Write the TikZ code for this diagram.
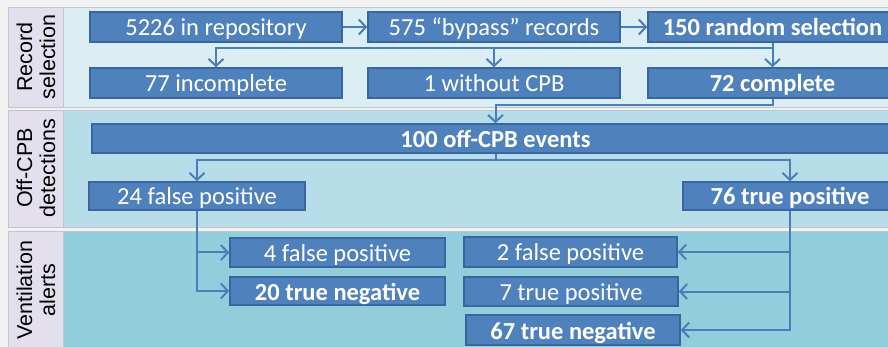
\documentclass[tikz,border=0pt]{standalone}
\usepackage{fontspec}
\setmainfont{Carlito}
\newfontfamily\labelfont{Liberation Sans}
\usetikzlibrary{arrows.meta}

\definecolor{pagebg}{HTML}{F2F2F2}
\definecolor{labelbg}{HTML}{E4DFEC}
\definecolor{bandA}{HTML}{DBEEF4}
\definecolor{bandB}{HTML}{B7DDE8}
\definecolor{bandC}{HTML}{92CDDC}
\definecolor{bandline}{HTML}{C4C4CC}
\definecolor{boxfill}{HTML}{4F81BD}
\definecolor{boxline}{HTML}{3A66A0}
\definecolor{flow}{HTML}{4A7EBB}

\tikzset{
  box/.style={draw=boxline, line width=1.5pt, fill=boxfill, text=white,
    inner sep=0pt, text height=22pt, text depth=4pt,
    font=\fontsize{24.5}{27}\selectfont},
  boldbox/.style={box, font=\fontsize{24.5}{27}\selectfont\bfseries},
  arr/.style={draw=flow, line width=2pt,
    -{Straight Barb[length=7pt,width=15pt,line width=2pt]}},
  lane/.style={draw=bandline, line width=0.8pt},
  lanetitle/.style={rotate=90, align=center, text=black,
    font=\labelfont\fontsize{21.5}{23}\selectfont}
}

\begin{document}
\begin{tikzpicture}[x=1pt,y=-1pt]
  \useasboundingbox (0,0) rectangle (888,347);
  \fill[pagebg] (0,0) rectangle (888,347);

  % swim lanes
  \filldraw[lane, fill=bandA]   (63,7)   rectangle (896,107);
  \filldraw[lane, fill=labelbg] (8,7)    rectangle (63,107);
  \filldraw[lane, fill=bandB]   (63,110) rectangle (896,227);
  \filldraw[lane, fill=labelbg] (8,110)  rectangle (63,227);
  \filldraw[lane, fill=bandC]   (63,231) rectangle (896,352);
  \filldraw[lane, fill=labelbg] (8,231)  rectangle (63,352);

  \node[lanetitle] (l1) at (36,57)  {Record\\selection};
  \node[lanetitle] (l2) at (36,168) {Off-CPB\\detections};
  \node[lanetitle] (l3) at (36,290) {Ventilation\\alerts};

  % record selection
  \node[box, minimum width=252, minimum height=30] (rep) at (216,27) {5226 in repository};
  \node[box, minimum width=252, minimum height=30] (byp) at (494,27) {575 “bypass” records};
  \node[boldbox, minimum width=249, minimum height=30] (rnd) at (772.5,27) {150 random selection};
  \node[box, minimum width=252, minimum height=30] (inc) at (216,83) {77 incomplete};
  \node[box, minimum width=252, minimum height=30] (wo)  at (494,83) {1 without CPB};
  \node[boldbox, minimum width=249, minimum height=30] (cmp) at (772.5,83) {72 complete};

  % off-CPB detections
  \node[boldbox, minimum width=807, minimum height=29] (off) at (495.5,138.5) {100 off-CPB events};
  \node[box, minimum width=216, minimum height=28] (fpA) at (197,196) {24 false positive};
  \node[boldbox, minimum width=214, minimum height=28] (tpA) at (790,196) {76 true positive};

  % ventilation alerts
  \node[box, minimum width=215, minimum height=29] (fpB) at (337.5,252.5) {4 false positive};
  \node[boldbox, minimum width=215, minimum height=28] (tnB) at (337.5,291) {20 true negative};
  \node[box, minimum width=213, minimum height=30] (fpC) at (570.5,252) {2 false positive};
  \node[box, minimum width=214, minimum height=29] (tpC) at (571,291.5) {7 true positive};
  \node[boldbox, minimum width=214, minimum height=30] (tnC) at (573,330) {67 true negative};

  % connectors
  \draw[arr] (rep) -- (byp);
  \draw[arr] (byp) -- (rnd);
  \coordinate (split1) at (772.5,48);
  \draw[arr] (rnd.south) -- (cmp.north);
  \draw[arr] (split1) -| (inc.north);
  \draw[arr] (split1) -| (wo.north);

  \draw[arr] (cmp.south) -- ++(0,6) -| (off.north);

  \draw[arr] (off.south) -- ++(0,6) -| (fpA.north);
  \draw[arr] (off.south) -- ++(0,6) -| (tpA.north);

  \draw[arr] (fpA.south) |- (fpB.west);
  \draw[arr] (fpA.south) |- (tnB.west);

  \draw[arr] (tpA.south) |- (fpC.east);
  \draw[arr] (tpA.south) |- (tpC.east);
  \draw[arr] (tpA.south) |- (tnC.east);
\end{tikzpicture}
\end{document}
